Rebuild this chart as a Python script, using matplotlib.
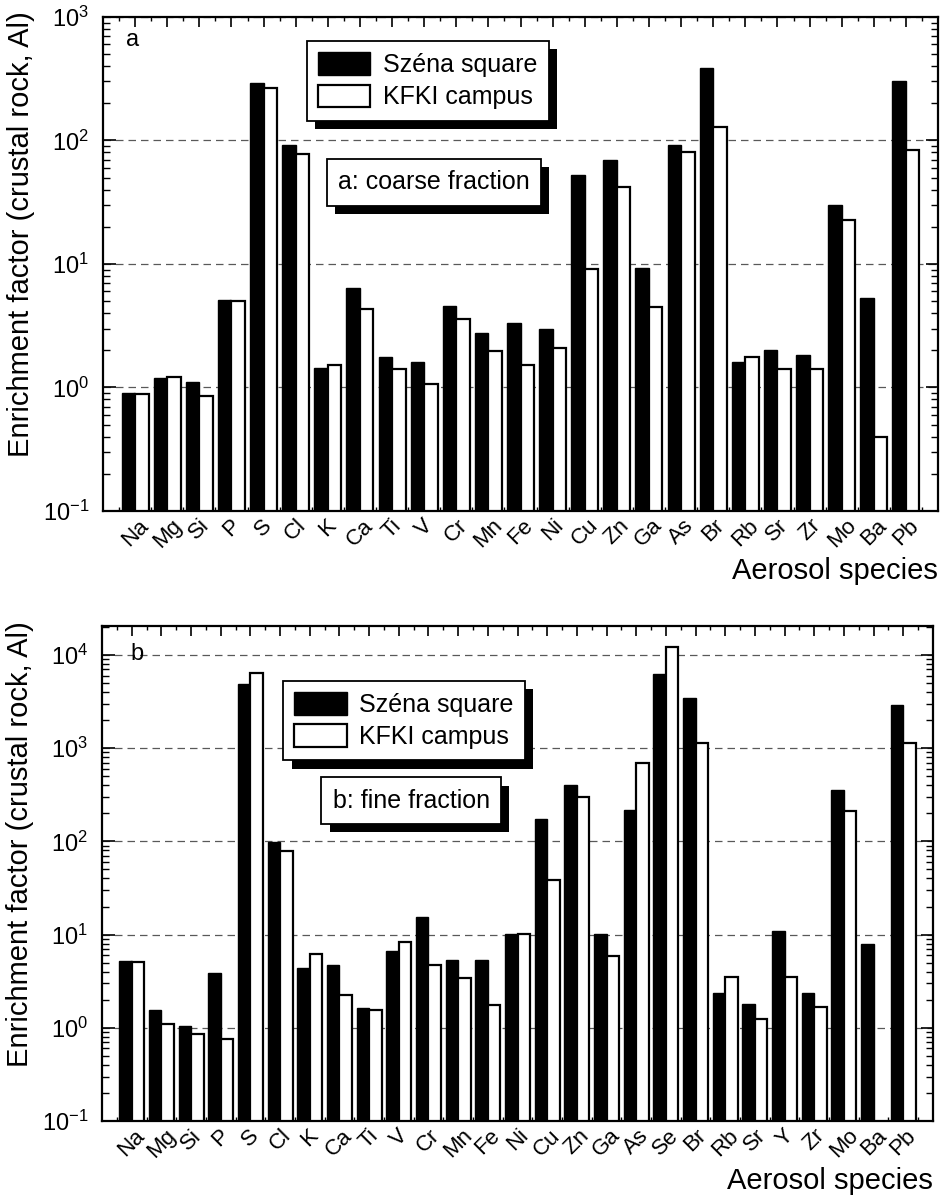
import numpy as np
import matplotlib
matplotlib.use("Agg")
import matplotlib.pyplot as plt
from matplotlib import patheffects
from matplotlib.patches import Patch
from matplotlib.ticker import FixedLocator, LogLocator, NullFormatter

plt.rcParams['font.family'] = ['Liberation Sans', 'DejaVu Sans']
plt.rcParams['axes.unicode_minus'] = False

# coarse fraction (panel a)
coarse_species = ['Na', 'Mg', 'Si', 'P', 'S', 'Cl', 'K', 'Ca', 'Ti', 'V', 'Cr', 'Mn', 'Fe',
                  'Ni', 'Cu', 'Zn', 'Ga', 'As', 'Br', 'Rb', 'Sr', 'Zr', 'Mo', 'Ba', 'Pb']
coarse_szena = [0.90, 1.20, 1.11, 5.1, 290, 92, 1.43, 6.4, 1.77, 1.61, 4.6, 2.77, 3.3,
                3.0, 52, 70, 9.2, 92, 385, 1.61, 2.0, 1.83, 30, 5.3, 300]
coarse_kfki = [0.88, 1.22, 0.85, 5.0, 265, 77, 1.53, 4.3, 1.41, 1.06, 3.6, 1.97, 1.52,
               2.1, 9.1, 42, 4.5, 81, 128, 1.77, 1.42, 1.41, 22.6, 0.40, 84]

# fine fraction (panel b), no KFKI value for Ba
fine_species = ['Na', 'Mg', 'Si', 'P', 'S', 'Cl', 'K', 'Ca', 'Ti', 'V', 'Cr', 'Mn', 'Fe',
                'Ni', 'Cu', 'Zn', 'Ga', 'As', 'Se', 'Br', 'Rb', 'Sr', 'Y', 'Zr', 'Mo', 'Ba', 'Pb']
fine_szena = [5.2, 1.54, 1.05, 3.9, 4850, 98, 4.4, 4.7, 1.63, 6.7, 15.6, 5.3, 5.4,
              10.1, 174, 403, 10.1, 216, 6250, 3430, 2.36, 1.81, 11.0, 2.38, 359, 7.9, 2930]
fine_kfki = [5.1, 1.09, 0.86, 0.75, 6400, 79, 6.2, 2.23, 1.54, 8.4, 4.7, 3.4, 1.77,
             10.1, 39, 299, 5.9, 690, 12200, 1140, 3.48, 1.25, 3.5, 1.67, 210, np.nan, 1145]

site_labels = ['Széna square', 'KFKI campus']


def shadow():
    return [patheffects.SimplePatchShadow(offset=(6, -6), shadow_rgbFace='k', alpha=1.0),
            patheffects.Normal()]


def panel(ax, species, szena, kfki, ylim, tag, note, leg_xy, note_xy, tag_xy):
    n = len(species)
    x = np.arange(1, n + 1)
    w = 0.42
    ax.set_yscale('log')
    ax.bar(x - w / 2, szena, width=w, color='k', edgecolor='k', linewidth=1.0, zorder=2)
    ax.bar(x + w / 2, kfki, width=w, color='w', edgecolor='k', linewidth=1.6, zorder=2)

    ax.set_xlim(0, n + 1)
    ax.set_ylim(*ylim)
    ax.set_xticks(x)
    ax.set_xticklabels(species, rotation=45, ha='center', va='top', fontsize=16)
    ax.xaxis.set_minor_locator(FixedLocator(np.arange(0.5, n + 1, 1.0)))
    ax.tick_params(axis='x', which='major', direction='in', top=True, bottom=True,
                   length=7, width=1.2, pad=3)
    ax.tick_params(axis='x', which='minor', direction='in', top=True, bottom=True,
                   length=3, width=1.0)

    ax.yaxis.set_major_locator(LogLocator(base=10, numticks=12))
    ax.yaxis.set_minor_locator(LogLocator(base=10, subs=np.arange(2, 10), numticks=12))
    ax.yaxis.set_minor_formatter(NullFormatter())
    ax.tick_params(axis='y', which='major', direction='in', left=True, right=True,
                   length=9, width=1.2, labelsize=17, pad=10)
    ax.tick_params(axis='y', which='minor', direction='in', left=True, right=True,
                   length=5, width=1.0)

    ax.set_axisbelow(True)
    ax.yaxis.grid(True, which='major', color='0.35', linestyle=(0, (6, 4)), linewidth=0.9)
    for s in ax.spines.values():
        s.set_linewidth(1.6)

    ax.set_ylabel('Enrichment factor (crustal rock, Al)', fontsize=21)
    ax.yaxis.set_label_coords(-0.082, 0.56)
    ax.set_xlabel('Aerosol species', fontsize=21, ha='right')
    ax.xaxis.set_label_coords(1.0, -0.094)

    ax.text(tag_xy[0], tag_xy[1], tag, transform=ax.transAxes, fontsize=17,
            ha='left', va='top')

    handles = [Patch(facecolor='k', edgecolor='k', linewidth=1.0),
               Patch(facecolor='w', edgecolor='k', linewidth=1.6)]
    leg = ax.legend(handles, site_labels, loc='upper left', bbox_to_anchor=leg_xy,
                    fontsize=18, frameon=True, fancybox=False, framealpha=1,
                    edgecolor='k', handlelength=2.1, handleheight=1.0,
                    borderpad=0.45, labelspacing=0.3, handletextpad=0.5,
                    borderaxespad=0)
    leg.get_frame().set_linewidth(1.3)
    leg.get_frame().set_path_effects(shadow())

    t = ax.text(note_xy[0], note_xy[1], note, transform=ax.transAxes, fontsize=18,
                ha='center', va='center', zorder=6,
                bbox=dict(boxstyle='square,pad=0.45', fc='w', ec='k', lw=1.3))
    t.get_bbox_patch().set_path_effects(shadow())


fig = plt.figure(figsize=(9.5, 11.98), dpi=100)
ax1 = fig.add_axes([0.1084, 0.5735, 0.879, 0.4124])
ax2 = fig.add_axes([0.1074, 0.0643, 0.8747, 0.4132])

panel(ax1, coarse_species, coarse_szena, coarse_kfki, (0.1, 1000), 'a',
      'a: coarse fraction', (0.244, 0.951), (0.396, 0.665), (0.028, 0.975))
panel(ax2, fine_species, fine_szena, fine_kfki, (0.1, 2.05e4), 'b',
      'b: fine fraction', (0.218, 0.889), (0.372, 0.647), (0.034, 0.965))

fig.savefig('out.png', dpi=100)
